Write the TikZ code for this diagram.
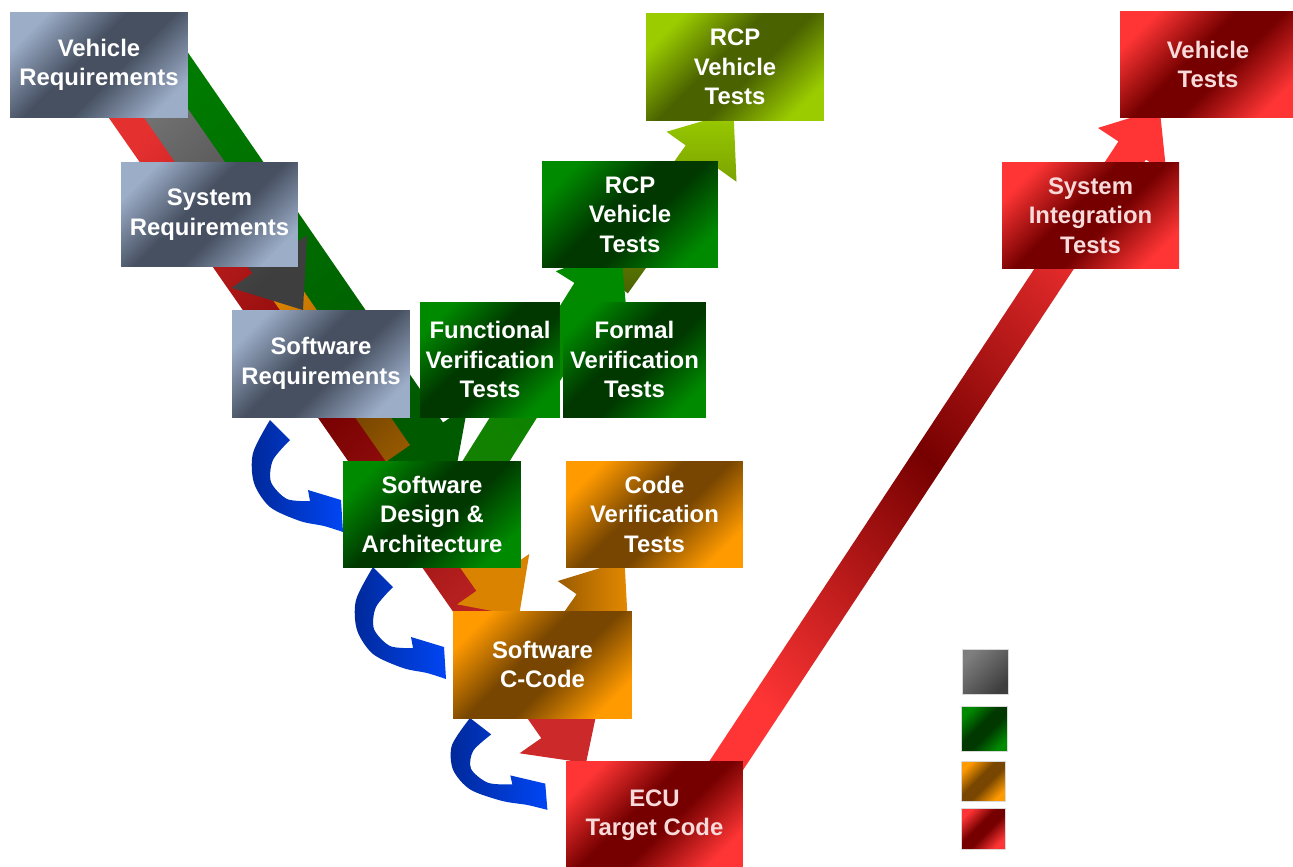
\documentclass[tikz,border=0pt]{standalone}
\usepackage{fontspec}
\setmainfont{Liberation Sans}
\usetikzlibrary{calc}
\pgfdeclarelayer{fg}
\pgfsetlayers{main,fg}
\definecolor{gyL}{HTML}{9CADC8}\definecolor{gyD}{HTML}{465061}
\definecolor{grL}{HTML}{008A00}\definecolor{grD}{HTML}{003800}
\definecolor{orL}{HTML}{FF9A00}\definecolor{orD}{HTML}{784600}
\definecolor{rdL}{HTML}{FF3535}\definecolor{rdD}{HTML}{760000}
\definecolor{ygL}{HTML}{9ACC00}\definecolor{ygD}{HTML}{4A6200}
\definecolor{redtxt}{HTML}{F8DADA}
\definecolor{blD}{HTML}{00299A}\definecolor{blL}{HTML}{0046F5}
\definecolor{agL}{HTML}{7E7E7E}\definecolor{agD}{HTML}{3E3E3E}
\definecolor{gnA}{HTML}{007A00}\definecolor{gnB}{HTML}{005A00}
\colorlet{boxL}{gyL}\colorlet{boxD}{gyD}
\pgfdeclareverticalshading[boxL,boxD]{boxsh}{100bp}{color(0bp)=(boxL); color(24bp)=(boxL); color(44bp)=(boxD); color(56bp)=(boxD); color(76bp)=(boxL); color(100bp)=(boxL)}
\tikzset{
  box/.style={rectangle, inner sep=0pt, align=center, text=white,
    font=\bfseries\fontsize{13.6pt}{16.8pt}\selectfont},
  tri/.style n args={2}{/utils/exec={\colorlet{boxL}{#1}\colorlet{boxD}{#2}}, shading=boxsh, shading angle=45},
  graybox/.style={box, tri={gyL}{gyD}},
  greenbox/.style={box, tri={grL}{grD}},
  orangebox/.style={box, tri={orL}{orD}},
  redbox/.style={box, text=redtxt, tri={rdL}{rdD}},
  ygbox/.style={box, tri={ygL}{ygD}},
  legend/.style={rectangle, inner sep=0pt, draw=white!85!black, line width=0.4pt},
  redarr/.style={left color=rdL!90!black, right color=rdL!80!black, middle color=rdD, shading angle=45},
  redup/.style={left color=rdL, right color=rdL, middle color=rdD, shading angle=-45},
  grayarr/.style={left color=agL, right color=agD, shading angle=45},
  greenarr/.style={left color=gnA, right color=gnB, shading angle=45},
  greenup/.style={left color=grL, right color=grL!70!ygD, shading angle=-45},
  ygarr/.style={left color=ygL, right color=ygD, shading angle=0},
  orangearr/.style={left color=orL, right color=orL!85!black, middle color=orD, shading angle=45},
  orangeup/.style={left color=orD, right color=orL!80!orD, shading angle=90},
  bluearr/.style={left color=blD, right color=blL},
}
\newcommand{\blkarrow}[6]{%
  \coordinate (tmpN) at ($(#3)!#6!(#2)$);
  \path[#1] ($(#2)!#4!90:(#3)$) -- ($(tmpN)!#4!90:(#3)$) -- ($(tmpN)!#5!90:(#3)$)
    -- (#3) -- ($(tmpN)!#5!-90:(#3)$) -- ($(tmpN)!#4!-90:(#3)$)
    -- ($(#2)!#4!-90:(#3)$) -- cycle;}
\newcommand{\bluecurl}[1]{%
  \begin{scope}[#1]
  \path[bluearr] plot[smooth] coordinates {(0,0) (-17,33) (-16,63) (0,87) (30,101) (54,106) (73,112)}
    -- (71,80) -- (38,70)
    -- plot[smooth] coordinates {(40,81) (17,79) (1,62) (3,40) (20,20)} -- cycle;
  \end{scope}}
\begin{document}
\begin{tikzpicture}[x=0.02cm, y=-0.02cm]
\useasboundingbox (0,0) rectangle (1293,866);
\fill[white] (0,0) rectangle (1293,866);
\begin{pgfonlayer}{fg}
\node[graybox, minimum width=3.56cm, minimum height=2.12cm] (vr) at (99,65) {Vehicle\\Requirements};
\node[graybox, minimum width=3.54cm, minimum height=2.10cm] (sr) at (209.5,214.5) {System\\Requirements};
\node[graybox, minimum width=3.56cm, minimum height=2.14cm] (swr) at (321,363.5) {Software\\Requirements};
\node[greenbox, minimum width=2.80cm, minimum height=2.30cm] (fvt) at (490,359.5) {Functional\\Verification\\Tests};
\node[greenbox, minimum width=2.86cm, minimum height=2.30cm] (frm) at (634.5,359.5) {Formal\\Verification\\Tests};
\node[greenbox, minimum width=3.56cm, minimum height=2.12cm] (swd) at (432,514) {Software\\Design \&\\Architecture};
\node[orangebox, minimum width=3.54cm, minimum height=2.12cm] (cvt) at (654.5,514) {Code\\Verification\\Tests};
\node[orangebox, minimum width=3.58cm, minimum height=2.14cm] (cc) at (542.5,664.5) {Software\\C-Code};
\node[redbox, minimum width=3.54cm, minimum height=2.16cm] (ecu) at (654.5,815) {ECU\\Target Code};
\node[greenbox, minimum width=3.52cm, minimum height=2.14cm] (rcpa) at (630,214.5) {RCP\\Vehicle\\Tests};
\node[ygbox, minimum width=3.56cm, minimum height=2.16cm] (rcpb) at (735,67) {RCP\\Vehicle\\Tests};
\node[redbox, minimum width=3.54cm, minimum height=2.14cm] (sit) at (1090.5,215.5) {System\\Integration\\Tests};
\node[redbox, minimum width=3.52cm, minimum height=2.14cm] (vt) at (1208,64.5) {Vehicle\\Tests};
\node[legend, left color=agL, right color=agD, shading angle=45, minimum width=0.92cm, minimum height=0.90cm] (lg1) at (985.5,671.5) {};
\node[legend, tri={grL}{grD}, minimum width=0.92cm, minimum height=0.90cm] (lg2) at (984,729) {};
\node[legend, tri={orL}{orD}, minimum width=0.88cm, minimum height=0.80cm] (lg3) at (983,781) {};
\node[legend, tri={rdL}{rdD}, minimum width=0.88cm, minimum height=0.82cm] (lg4) at (983,828.5) {};
\end{pgfonlayer}
% arrow end points
\coordinate (rdT) at (82,40);    \coordinate (rdH) at (586,763);
\coordinate (orT) at (228,200);  \coordinate (orH) at (519,616);
\coordinate (gnT) at (155,40);   \coordinate (gnH) at (455,475);
\coordinate (gyT) at (115,40);   \coordinate (gyH) at (303,310);
\coordinate (ygT) at (612,282);  \coordinate (ygH) at (733.5,112);
\coordinate (guT) at (449,520);  \coordinate (guH) at (620.6,247);
\coordinate (ouT) at (541,680);  \coordinate (ouH) at (624.5,560.6);
\coordinate (ruT) at (703.5,800);\coordinate (ruH) at (1159.7,108.8);
% descending arrows
\blkarrow{redarr}{rdT}{rdH}{0.45cm}{0.98cm}{0.92cm}
\blkarrow{orangearr}{orT}{orH}{0.41cm}{0.88cm}{0.90cm}
\blkarrow{greenarr}{gnT}{gnH}{0.40cm}{1.0cm}{1.0cm}
\blkarrow{grayarr}{gyT}{gyH}{0.41cm}{0.92cm}{1.18cm}
% ascending arrows
\blkarrow{ygarr}{ygT}{ygH}{0.39cm}{0.86cm}{1.10cm}
\blkarrow{greenup}{guT}{guH}{0.40cm}{0.84cm}{1.10cm}
\blkarrow{orangeup}{ouT}{ouH}{0.40cm}{0.86cm}{1.10cm}
\blkarrow{redup}{ruT}{ruH}{0.33cm}{0.82cm}{1.0cm}
% blue curved arrows
\bluecurl{shift={(270,420)}}
\bluecurl{shift={(373,567)}}
\bluecurl{shift={(470,718)}, xscale=1.06, yscale=0.82}
\end{tikzpicture}
\end{document}
